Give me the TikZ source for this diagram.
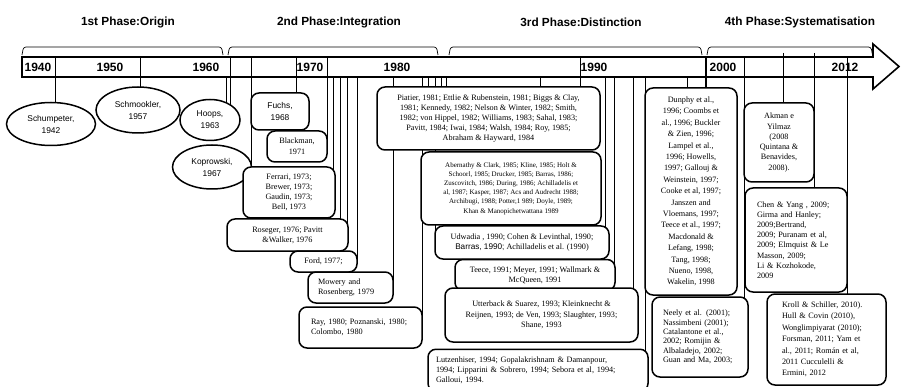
\documentclass[tikz,border=0pt]{standalone}
\usepackage{fontspec}
\setmainfont{Liberation Serif}
\newfontfamily\sansf{Liberation Sans}
\usetikzlibrary{shapes.geometric}
\pgfdeclarelayer{bg}
\pgfsetlayers{bg,main}
\tikzset{
 rbox/.style={draw, line width=1.5pt, rounded corners=8pt, fill=white, inner sep=0pt, align=center, font=\fontsize{8.2}{10}\selectfont},
 lbox/.style={rbox, align=left},
 ell/.style={draw, ellipse, line width=1.5pt, fill=white, inner sep=0pt, align=center, font=\sansf\fontsize{8.4}{12}\selectfont},
 tick/.style={line width=0.7pt},
 band/.style={line width=1.6pt, line join=miter},
 yearlbl/.style={font=\sansf\bfseries\fontsize{12}{14}\selectfont, inner sep=0pt},
 phase/.style={font=\sansf\bfseries\fontsize{11.8}{14}\selectfont, inner sep=0pt},
 brace/.style={line width=0.7pt, rounded corners=2.5pt},
}
\begin{document}
\begin{tikzpicture}[x=1pt,y=-1pt]
\clip (0,0) rectangle (901,387);
% phase titles
\node[phase] (p1) at (128,22) {1st Phase:Origin};
\node[phase] (p2) at (339,22) {2nd Phase:Integration};
\node[phase] (p3) at (581,22) {3rd Phase:Distinction};
\node[phase] (p4) at (800,22) {4th Phase:Systematisation};
% braces
\draw[brace] (22,55) -- (23.5,47) -- (221.5,47) -- (223,55);
\draw[brace] (228,55) -- (229.5,47) -- (436.5,47) -- (438,55);
\draw[brace] (449,55) -- (450.5,47) -- (700.5,47) -- (702,55);
\draw[brace] (707,55) -- (708.5,47) -- (871,47) -- (872.5,55);
% timeline arrow
\draw[band] (22,57) -- (873,57) -- (873,44) -- (899,66.5) -- (873,89) -- (873,77) -- (22,77) -- cycle;
% years
\node[yearlbl] (y1940) at (38,67.5) {1940};
\node[yearlbl] (y1950) at (110,67.5) {1950};
\node[yearlbl] (y1960) at (206,67.5) {1960};
\node[yearlbl] (y1970) at (310,67.5) {1970};
\node[yearlbl] (y1980) at (397,67.5) {1980};
\node[yearlbl] (y1990) at (594,67.5) {1990};
\node[yearlbl] (y2000) at (723,67.5) {2000};
\node[yearlbl] (y2012) at (845,67.5) {2012};
% ellipses
\node[ell, minimum width=89, minimum height=43] (schump) at (51,124) {Schumpeter,\\1942};
\node[ell, minimum width=84, minimum height=46] (schmook) at (138,110) {Schmookler,\\1957};
\node[ell, minimum width=60, minimum height=41] (hoops) at (210,120) {Hoops,\\1963};
\node[ell, minimum width=79, minimum height=44] (kopr) at (212,167) {Koprowski,\\1967};
% boxes, 2nd phase
\node[rbox, minimum width=58, minimum height=37, font=\sansf\fontsize{8.4}{11.5}\selectfont] (fuchs) at (280,111.5) {Fuchs,\\1968};
\node[rbox, minimum width=60, minimum height=31, font=\fontsize{8.2}{11}\selectfont] (blackman) at (297,146.5) {Blackman,\\1971};
\node[rbox, minimum width=92, minimum height=51] (ferrari) at (289,192.5) {Ferrari, 1973;\\Brewer, 1973;\\Gaudin, 1973;\\Bell, 1973};
\node[rbox, minimum width=121, minimum height=32] (roseger) at (287.5,235) {Roseger, 1976; Pavitt\\\&Walker, 1976};
\node[rbox, minimum width=67, minimum height=21] (ford) at (323.5,261.5) {Ford, 1977;};
\node[lbox, minimum width=85, minimum height=31, text width=65, inner xsep=10] (mowery) at (350.5,287.5) {Mowery and\\Rosenberg, 1979};
\node[lbox, minimum width=123, minimum height=41, text width=99, inner xsep=12] (ray) at (360.5,327.5) {Ray, 1980; Poznanski, 1980;\\Colombo, 1980};
\node[rbox, minimum width=223, minimum height=63] (piatier) at (488.5,118.5) {Piatier, 1981; Ettlie \& Rubenstein, 1981; Biggs \& Clay,\\1981; Kennedy, 1982; Nelson \& Winter, 1982; Smith,\\1982; von Hippel, 1982; Williams, 1983; Sahal, 1983;\\Pavitt, 1984; Iwai, 1984; Walsh, 1984; Roy, 1985;\\Abraham \& Hayward, 1984};
\node[rbox, minimum width=180, minimum height=73, font=\fontsize{7}{9.2}\selectfont] (abern) at (511,188.5) {Abernathy \& Clark, 1985; Kline, 1985; Holt \&\\Schoorl, 1985; Drucker, 1985; Barras, 1986;\\Zuscovitch, 1986; During, 1986; Achilladelis et\\al, 1987; Kasper, 1987; Acs and Audrecht 1988;\\Archibugi, 1988; Potter,1 989; Doyle, 1989;\\Khan \& Manopichetwattana 1989};
% 3rd phase
\node[rbox, minimum width=174, minimum height=33] (udwadia) at (522,242.5) {Udwadia , 1990; Cohen \& Levinthal, 1990;\\{\sansf Barras, 1990;} Achilladelis et al. (1990)};
\node[rbox, minimum width=160, minimum height=31] (teece) at (535,275) {Teece, 1991; Meyer, 1991; Wallmark \&\\McQueen, 1991};
\node[rbox, minimum width=193, minimum height=54, font=\fontsize{8.2}{10.6}\selectfont] (utter) at (541.5,315) {Utterback \& Suarez, 1993; Kleinknecht \&\\Reijnen, 1993; de Ven, 1993; Slaughter, 1993;\\Shane, 1993};
\node[lbox, anchor=north, text width=204, inner xsep=8, inner ysep=8, font=\fontsize{8.2}{9.6}\selectfont] (lutz) at (538,348.5) {Lutzenhiser, 1994; Gopalakrishnam \& Damanpour,\\1994; Lipparini \& Sobrero, 1994; Sebora et al, 1994;\\Galloui, 1994.};
\node[rbox, minimum width=92, minimum height=207, font=\fontsize{8.2}{11.4}\selectfont] (dunphy) at (691,191.5) {Dunphy et al.,\\1996; Coombs et\\al., 1996; Buckler\\\& Zien, 1996;\\Lampel et al.,\\1996; Howells,\\1997; Gallouj \&\\Weinstein, 1997;\\Cooke et al, 1997;\\Janszen and\\Vloemans, 1997;\\Teece et al., 1997;\\Macdonald \&\\Lefang, 1998;\\Tang, 1998;\\Nueno, 1998,\\Wakelin, 1998};
% 4th phase
\node[lbox, minimum width=96, minimum height=80, text width=74, inner xsep=11, font=\fontsize{8.2}{9.4}\selectfont] (neely) at (700,337) {\makebox[74pt][s]{Neely et al. (2001);}\\\makebox[74pt][s]{Nassimbeni (2001);}\\\makebox[74pt][s]{Catalantone et al.,}\\\makebox[74pt][s]{2002; Romijin \&}\\\makebox[74pt][s]{Albaladejo, 2002;}\\Guan and Ma, 2003;};
\node[rbox, minimum width=70, minimum height=79, font=\fontsize{8.2}{10.3}\selectfont] (akman) at (779,142.5) {Akman e\\Yilmaz\\(2008\\Quintana \&\\Benavides,\\2008).};
\node[lbox, minimum width=102, minimum height=104, text width=78, inner xsep=12, font=\fontsize{8.2}{10.2}\selectfont] (chen) at (796,240) {Chen \& Yang , 2009;\\Girma and Hanley;\\2009;Bertrand,\\2009; Puranam et al,\\2009; Elmquist \& Le\\Masson, 2009;\\Li \& Kozhokode,\\2009};
\node[lbox, minimum width=119, minimum height=91, text width=89, inner xsep=15, font=\fontsize{8.2}{11.4}\selectfont] (kroll) at (826.5,339.5) {Kroll \& Schiller, 2010).\\Hull \& Covin (2010),\\Wonglimpiyarat (2010);\\Forsman, 2011; Yam et\\al., 2011; Román et al,\\2011 Cucculelli \&\\Ermini, 2012};
% connectors from the timeline to the works
\begin{pgfonlayer}{bg}
\fill[white] (0,0) rectangle (901,387);
\foreach \x/\y/\n in {55/57/schump, 140/57/schmook, 226/77/hoops, 230/57/hoops, 251/57/ferrari, 296/57/fuchs, 327/57/blackman, 333/77/ferrari, 340/77/roseger, 347/77/roseger, 357/77/ford, 393/77/mowery, 422/77/ray, 428/77/piatier, 435/77/udwadia, 441/77/piatier, 446/77/piatier, 540/77/piatier, 580/57/piatier, 605/77/udwadia, 614/77/teece, 633/77/utter, 645/77/lutz, 687/77/dunphy, 744/57/neely, 783/53/akman, 814/53/chen, 847/57/kroll}{
  \coordinate (c\x) at (\x,\y);
  \draw[tick] (c\x) -- (c\x |- \n.center);
}
\coordinate (c706) at (706,57);
\draw[line width=1.3pt] (c706) -- (c706 |- dunphy.center);
\end{pgfonlayer}
\end{tikzpicture}
\end{document}
